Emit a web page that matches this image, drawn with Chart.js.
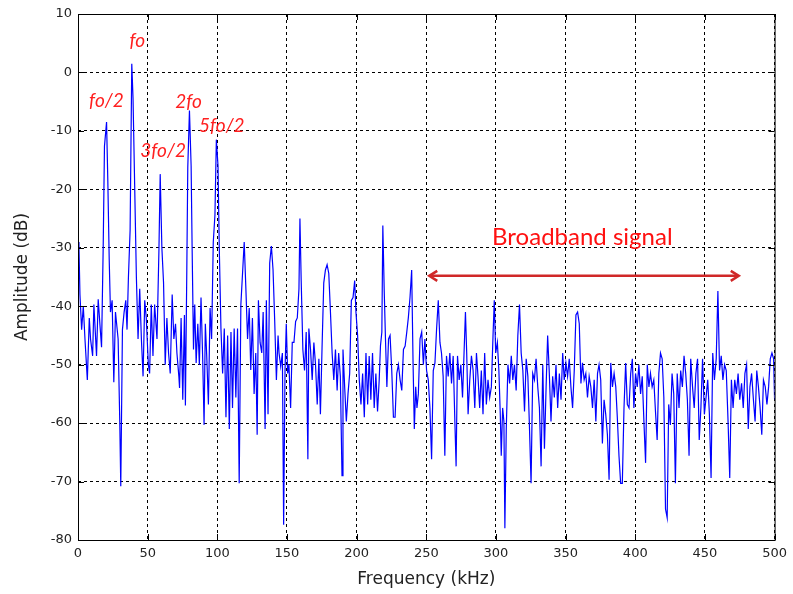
<!DOCTYPE html>
<html>
<head>
<meta charset="utf-8">
<script src="https://cdn.jsdelivr.net/npm/chart.js@4/dist/chart.umd.min.js"></script>
<style>
  html, body { margin: 0; padding: 0; background: #fff; }
  #wrap { width: 793px; height: 594px; }
</style>
</head>
<body>
<div id="wrap"><canvas id="spec" width="793" height="594"></canvas></div>
<script>
// Spectrum: frequency (kHz) and amplitude (dB)
const freqKHz = [
  0, 0.7, 1.4, 2.6, 3.8, 5.0, 6.7, 8.1, 9.0, 10.5,
  11.4, 13.3, 14.5, 15.7, 16.9, 18.1, 19.0, 20.5, 21.4, 22.4,
  23.3, 24.5, 25.7, 26.9, 28.8, 30.0, 30.7, 31.9, 33.1, 34.3,
  35.2, 36.2, 37.4, 38.6, 39.5, 40.7, 41.9, 43.1, 44.3, 45.5,
  46.7, 47.9, 49.0, 50.5, 51.4, 52.6, 53.8, 55.0, 56.7, 58.1,
  59.0, 60.2, 61.4, 62.6, 63.8, 65.0, 66.2, 67.6, 68.8, 70.0,
  71.0, 72.4,
  72.9, 74.0, 75.2, 76.4, 77.1, 78.1, 78.8, 80.0, 81.2, 81.9,
  82.9, 83.8, 84.8, 86.0, 87.1, 88.3, 89.5, 90.5, 91.4, 92.4,
  93.6, 94.8, 95.9, 97.1, 98.3, 99.3, 100.5, 101.4, 102.6, 103.8,
  105.0, 106.2, 107.4, 108.6, 109.8, 110.9, 112.1, 113.3, 114.5, 115.7,
  116.9, 118.1, 119.3, 120.5, 121.7, 122.9, 124.0, 125.2, 126.4, 127.6,
  128.6, 129.5, 130.7, 131.9, 132.9, 134.3, 135.2, 136.4, 137.6, 138.8,
  140.0, 141.2, 142.4, 143.6,
  144.3, 145.5, 146.7, 147.6, 148.6, 149.5, 150.5, 151.4, 152.6, 153.8,
  155.0, 156.2, 157.4, 158.6, 159.3, 160.2, 161.4, 162.6, 163.8, 165.0,
  165.7, 166.9, 168.1, 169.3, 170.5, 171.7, 172.9, 174.0, 175.2, 176.4,
  177.6, 178.8, 180.0, 181.2, 182.4, 183.6, 184.8, 186.0, 187.1, 188.3,
  189.5, 190.2, 191.4, 192.6, 193.8, 195.0, 196.2, 197.4, 198.6, 199.5,
  200.7, 201.9, 203.1, 204.3, 205.5, 206.7, 207.9, 209.0, 210.2, 211.4,
  212.6, 213.8, 215.0,
  216.2, 217.1, 218.1, 218.8, 219.8, 220.7, 221.7, 222.9, 224.0, 225.2,
  226.4, 227.6, 228.8, 230.0, 231.2, 232.4, 233.6, 234.8, 236.0, 237.1,
  238.3, 239.5, 240.5, 241.4, 242.4, 243.3, 244.3, 245.5, 246.7, 247.9,
  249.0, 250.2, 251.4, 252.6, 253.8, 255.0, 256.2, 257.4, 258.6, 259.8,
  260.9, 262.1, 263.3, 264.5, 265.7, 266.9, 268.1, 269.3, 270.5, 271.4,
  272.4, 273.6, 274.8, 276.0, 277.1, 278.1, 279.0, 280.0, 281.2, 282.4,
  283.6, 284.8, 286.0,
  287.1, 288.3, 289.5, 290.7, 291.9, 293.1, 294.3, 295.5, 296.7, 297.9,
  298.8, 299.8, 301.0, 302.1, 303.1, 303.8, 304.8, 305.7, 306.4, 307.4,
  308.6, 309.8, 311.0, 312.1, 313.3, 314.5, 315.7, 316.9, 318.1, 319.3,
  320.5, 321.7, 322.9, 324.0, 325.2, 326.4, 327.6, 328.8, 330.0, 331.2,
  332.4, 333.6, 334.8, 336.0, 337.1, 338.3, 339.5, 340.7, 341.9, 343.1,
  344.3, 345.5, 346.7, 347.9, 349.0, 350.2, 351.4, 352.6, 353.8, 355.0,
  356.2, 357.4,
  358.6, 359.8, 361.0, 362.1, 363.3, 364.5, 365.7, 366.9, 368.1, 369.3,
  370.5, 371.7, 372.9, 374.0, 375.2, 376.4, 377.6, 378.8, 380.0, 381.2,
  382.4, 383.6, 384.8, 386.0, 387.1, 388.3, 389.5, 390.7, 391.9, 393.1,
  394.3, 395.5, 396.7, 397.9, 399.0, 400.2, 401.4, 402.6, 403.8, 405.0,
  406.2, 407.4, 408.6, 409.8, 410.9, 412.1, 413.3, 414.5, 415.7, 416.9,
  418.1, 419.3, 420.5, 421.7, 422.9, 424.0, 425.2, 426.4, 427.6, 428.8,
  430.1, 431.4, 432.6, 433.8, 435.0, 436.2, 437.4, 438.6, 439.8, 441.1,
  442.3, 443.5, 444.7, 445.9, 447.1, 448.3, 449.6, 450.8, 452.0, 453.2,
  454.4, 455.6, 456.8, 458.1, 459.3, 460.5, 461.7, 462.9, 464.1, 465.3,
  466.6, 467.8, 469.0, 470.2, 471.4, 472.6, 473.8, 475.0, 476.3, 477.5,
  478.7, 479.9, 481.1, 482.3, 483.5, 484.8, 486.0, 487.2, 488.4, 489.6,
  490.8, 492.0, 493.3, 494.5, 495.7, 496.9, 498.1, 499.3, 500
];

const ampDb = [
  -29, -30, -38, -44, -40, -45.6, -52.6, -42, -45.6, -48.5,
  -39.7, -48.5, -38.8, -43, -47, -29.7, -12.6, -8.5, -18.5, -32,
  -41, -39, -53, -41, -45.6, -60, -70.8, -44, -41, -39,
  -44, -35, -27, 1.5, -4.4, -19.7, -35, -45.6, -37, -45.6,
  -52, -39, -42, -50, -51.5, -39.7, -48.5, -39.7, -45.6, -30.3,
  -17.4, -30, -36, -50, -42, -48, -51.5, -38, -45.6, -43,
  -48, -52,
  -54, -42, -56, -41.5, -57, -33.8, -16.2, -6.5, -16, -29.7,
  -47.4, -39.7, -49.7, -43, -50, -38.5, -49, -60.3, -43, -48.5,
  -56.8, -40.3, -45.6, -29, -24.4, -11.5, -16, -30, -43.8, -51.5,
  -43.8, -59, -45, -61, -44.4, -57.4, -43.8, -55.6, -43.8, -70.3,
  -39.7, -34.4, -29, -37, -45.6, -40.3, -50.9, -42, -55, -48,
  -62, -39, -46.2, -48, -41, -61, -39, -58.5, -32.6, -29.7,
  -33.8, -42.6, -52.6, -45,
  -48, -50.3, -48, -77.4, -51, -43, -51.5, -50, -57.4, -46.2,
  -46.2, -42.6, -42, -37, -25, -35.6, -47.4, -51, -44.4, -66.2,
  -43.8, -47.4, -52.6, -46.2, -50, -56.8, -49, -58.5, -46.8, -36,
  -33.8, -32.9, -34.4, -41, -48, -52.6, -47.4, -54.4, -48, -52,
  -69, -47.4, -53.8, -59.7, -55, -51.5, -39, -38.5, -35.6, -41,
  -45, -52.6, -56.8, -51.5, -59, -48, -56.8, -48.5, -56, -48,
  -57.4, -51.5, -58,
  -52.6, -46.8, -44.4, -26.2, -37.4, -45.6, -53.8, -45.6, -45, -51,
  -59, -59, -51.5, -50, -52.6, -54.4, -47.4, -46.8, -44.4, -42,
  -38.5, -33.8, -49.7, -61, -53.8, -57.4, -55, -45.6, -44.4, -50,
  -45.6, -51, -52.6, -57.4, -66.2, -51, -49.7, -43.8, -39, -46.2,
  -48, -52, -65.6, -48.5, -52, -48, -53.2, -48.5, -59.7, -67.4,
  -48.5, -52.6, -50, -55.6, -48, -41, -48, -58.5, -52.6, -48.5,
  -51, -57.4, -48,
  -52, -57.4, -51, -58.5, -48, -56.8, -52.6, -55.6, -53.8, -45,
  -39, -48, -46.2, -51, -58.5, -65.6, -57.4, -59.7, -78, -61,
  -50, -53.2, -48.5, -52.6, -50, -54.4, -45, -39.7, -48, -51,
  -58, -49, -52, -60.3, -70.3, -51.5, -52.6, -49, -53.8, -57.4,
  -67.4, -50, -64.4, -53.8, -45, -51.5, -59.7, -52, -55.6, -50,
  -57.4, -51.5, -56, -48, -52.6, -49.7, -52, -49, -53.8, -57.4,
  -51, -41.5,
  -41, -43, -53.2, -49.7, -52.6, -51.5, -55.6, -52, -53.8, -57.4,
  -52.6, -59.7, -51.5, -50, -52.6, -63.5, -56, -58.5, -62, -69.7,
  -49.7, -53.8, -51.5, -53.8, -59, -65.6, -70.3, -70.3, -57.4, -49.7,
  -56.8, -57.4, -51.5, -49, -57.4, -51.5, -53.8, -50, -55, -52,
  -59.7, -66.8, -50, -53.8, -51.5, -53.8, -52.6, -58, -62.9, -51.5,
  -48, -49, -55.6, -74.7, -76.2, -56.8, -60.3, -51.5, -55, -70.3,
  -51.5, -57.4, -51, -53.8, -48.5, -51.5, -56, -65.6, -49, -53.8,
  -57.4, -51.5, -49, -62.9, -57.4, -49, -58.5, -55.6, -52.6, -58.5,
  -69.4, -48, -52.6, -49, -37.4, -51, -48.5, -52.6, -50, -51,
  -59.7, -69.4, -52.6, -57.4, -52.6, -55, -51.5, -56, -53.2, -57.4,
  -51.5, -50, -61, -53.8, -51.5, -56, -59.7, -51, -53.8, -57.4,
  -62, -52.6, -53.8, -56.8, -53.8, -49, -48, -49, -56
];

// Harmonic labels (anchored in data units)
const harmonicText = ['fo', 'fo/2', '3fo/2', '2fo', '5fo/2'];
const harmonicFreq = [42.5, 20.4, 61.1, 79.3, 103.2];
const harmonicAmp = [5.4, -4.8, -13.5, -5.0, -9.1];

// Broadband span
const bandText = 'Broadband signal';
const bandStart = 251.4;
const bandEnd = 475;
const bandLevel = -34.8;
const bandTextFreq = 362;
const bandTextAmp = -28.2;

// Axis ticks
const xMin = 0, xMax = 500, xStep = 50;
const yMin = -80, yMax = 10, yStep = 10;

const points = freqKHz.map((f, i) => ({ x: f, y: ampDb[i] }));

// Box, inward ticks and the red annotations
const decorPlugin = {
    id: 'decor',
    afterDraw(chart) {
        const ctx = chart.ctx;
        const area = chart.chartArea;
        const sx = chart.scales.x;
        const sy = chart.scales.y;
        ctx.save();

        // frame
        ctx.strokeStyle = '#000';
        ctx.lineWidth = 1;
        ctx.setLineDash([]);
        ctx.strokeRect(area.left + 0.5, area.top + 0.5, area.right - area.left, area.bottom - area.top);

        // inward ticks like matlab
        ctx.beginPath();
        for (let v = xMin; v <= xMax; v += xStep) {
            const px = Math.round(sx.getPixelForValue(v)) + 0.5;
            ctx.moveTo(px, area.bottom); ctx.lineTo(px, area.bottom - 6);
            ctx.moveTo(px, area.top); ctx.lineTo(px, area.top + 6);
        }
        for (let v = yMin; v <= yMax; v += yStep) {
            const py = Math.round(sy.getPixelForValue(v)) + 0.5;
            ctx.moveTo(area.left, py); ctx.lineTo(area.left + 6, py);
            ctx.moveTo(area.right, py); ctx.lineTo(area.right - 6, py);
        }
        ctx.stroke();

        // harmonic labels
        ctx.fillStyle = '#ff2020';
        ctx.font = 'italic 19px Lato';
        ctx.textAlign = 'center';
        ctx.textBaseline = 'middle';
        harmonicText.forEach((t, i) => {
            ctx.fillText(t, sx.getPixelForValue(harmonicFreq[i]), sy.getPixelForValue(harmonicAmp[i]));
        });

        // broadband text
        ctx.fillStyle = '#ff1010';
        ctx.font = '24px Lato';
        ctx.fillText(bandText, sx.getPixelForValue(bandTextFreq), sy.getPixelForValue(bandTextAmp));

        // double arrow
        const x1 = sx.getPixelForValue(bandStart);
        const x2 = sx.getPixelForValue(bandEnd);
        const y = sy.getPixelForValue(bandLevel);
        ctx.strokeStyle = '#d02828';
        ctx.lineWidth = 2.5;
        ctx.beginPath();
        ctx.moveTo(x1 + 2, y); ctx.lineTo(x2 - 2, y);
        ctx.stroke();
        ctx.beginPath();
        ctx.moveTo(x1 + 9, y - 5); ctx.lineTo(x1 + 1, y); ctx.lineTo(x1 + 9, y + 5);
        ctx.moveTo(x2 - 9, y - 5); ctx.lineTo(x2 - 1, y); ctx.lineTo(x2 - 9, y + 5);
        ctx.stroke();

        ctx.restore();
    }
};

const gridStyle = {
    color: '#000',
    lineWidth: 1,
    drawTicks: false
};

new Chart(document.getElementById('spec').getContext('2d'), {
    type: 'line',
    data: {
        datasets: [{
            data: points,
            borderColor: '#0000ff',
            borderWidth: 1.2,
            pointRadius: 0,
            tension: 0,
            fill: false
        }]
    },
    options: {
        responsive: false,
        animation: false,
        layout: { padding: { left: 0, right: 16, top: 14, bottom: 0 } },
        plugins: {
            legend: { display: false },
            tooltip: { enabled: false }
        },
        scales: {
            x: {
                type: 'linear',
                min: xMin,
                max: xMax,
                grid: gridStyle,
                border: { display: false, dash: [3, 3] },
                ticks: {
                    stepSize: xStep,
                    padding: 6,
                    color: '#222',
                    font: { family: 'DejaVu Sans', size: 13 }
                },
                title: {
                    display: true,
                    text: 'Frequency (kHz)',
                    color: '#222',
                    font: { family: 'DejaVu Sans', size: 17 },
                    padding: { top: 0, bottom: 4 }
                },
                afterFit: s => { s.height = 54; }
            },
            y: {
                type: 'linear',
                min: yMin,
                max: yMax,
                grid: gridStyle,
                border: { display: false, dash: [3, 3] },
                ticks: {
                    stepSize: yStep,
                    padding: 6,
                    color: '#222',
                    font: { family: 'DejaVu Sans', size: 13 }
                },
                title: {
                    display: true,
                    text: 'Amplitude (dB)',
                    color: '#222',
                    font: { family: 'DejaVu Sans', size: 17 },
                    padding: { top: 12, bottom: 0 }
                },
                afterFit: s => { s.width = 78; }
            }
        }
    },
    plugins: [decorPlugin]
});
</script>
</body>
</html>
